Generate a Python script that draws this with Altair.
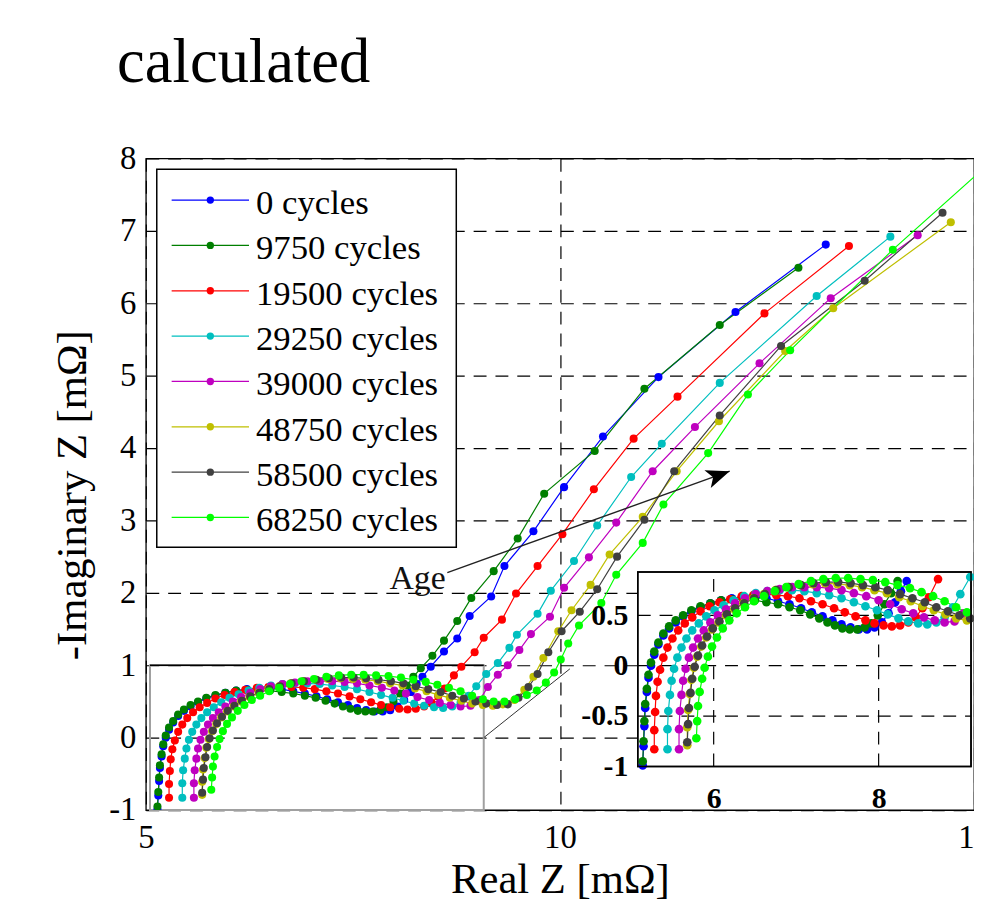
import math
import altair as alt
import pandas as pd

TITLE = "calculated"
SERIES = ["0 cycles", "9750 cycles", "19500 cycles", "29250 cycles",
          "39000 cycles", "48750 cycles", "58500 cycles", "68250 cycles"]
COLORS = ["#0000ff", "#007f00", "#ff0000", "#00bfbf",
          "#bf00bf", "#bfbf00", "#404040", "#00ff00"]

# (Real Z, -Imag Z) in mOhm
S0 = [(5.14,-0.99),(5.15,-0.80),(5.16,-0.60),(5.17,-0.42),(5.19,-0.26),(5.21,-0.12),(5.24,0.00),(5.28,0.11),
      (5.33,0.21),(5.39,0.30),(5.46,0.37),(5.54,0.43),(5.63,0.49),(5.73,0.54),(5.84,0.58),(5.96,0.62),
      (6.09,0.65),(6.22,0.67),(6.36,0.68),(6.50,0.68),(6.64,0.67),(6.78,0.64),(6.92,0.61),(7.06,0.57),
      (7.19,0.53),(7.32,0.49),(7.44,0.45),(7.55,0.41),(7.66,0.38),(7.76,0.36),(7.86,0.36),(7.95,0.38),
      (8.04,0.43),(8.12,0.52),(8.20,0.63),(8.27,0.74),(8.34,0.84),(8.44,0.98),(8.60,1.19),(8.76,1.37),
      (8.91,1.68),(9.17,1.95),(9.33,2.37),(9.68,2.85),(10.05,3.46),(10.52,4.16),(11.19,4.98),(12.12,5.88),
      (13.21,6.81)]
S1 = [(5.14,-0.95),(5.15,-0.75),(5.16,-0.55),(5.17,-0.38),(5.19,-0.23),(5.21,-0.09),(5.24,0.03),(5.28,0.14),
      (5.33,0.23),(5.39,0.32),(5.46,0.39),(5.54,0.45),(5.63,0.50),(5.73,0.55),(5.84,0.59),(5.96,0.62),
      (6.09,0.65),(6.22,0.66),(6.36,0.66),(6.50,0.65),(6.64,0.63),(6.78,0.61),(6.92,0.58),(7.05,0.55),
      (7.17,0.51),(7.28,0.47),(7.38,0.43),(7.47,0.40),(7.56,0.37),(7.65,0.36),(7.74,0.36),(7.83,0.38),
      (7.91,0.42),(7.99,0.50),(8.07,0.61),(8.15,0.72),(8.23,0.84),(8.32,0.96),(8.46,1.13),(8.60,1.34),
      (8.76,1.61),(8.93,1.93),(9.20,2.30),(9.49,2.75),(9.81,3.37),(10.42,3.96),(11.02,4.82),(11.93,5.70),
      (12.88,6.49)]
S2 = [(5.28,-0.83),(5.28,-0.64),(5.29,-0.46),(5.30,-0.30),(5.32,-0.16),(5.35,-0.04),(5.39,0.08),(5.44,0.18),
      (5.50,0.27),(5.57,0.35),(5.65,0.42),(5.74,0.48),(5.84,0.54),(5.95,0.59),(6.07,0.63),(6.20,0.66),
      (6.34,0.69),(6.48,0.70),(6.62,0.71),(6.76,0.70),(6.90,0.69),(7.04,0.67),(7.18,0.64),(7.32,0.61),
      (7.46,0.57),(7.59,0.53),(7.72,0.49),(7.84,0.45),(7.95,0.42),(8.06,0.40),(8.16,0.39),(8.26,0.40),
      (8.36,0.43),(8.45,0.48),(8.53,0.57),(8.61,0.68),(8.72,0.86),(8.81,0.98),(8.97,1.18),(9.08,1.38),
      (9.30,1.63),(9.47,1.99),(9.73,2.37),(10.03,2.81),(10.41,3.43),(10.89,4.13),(11.42,4.71),(12.47,5.86),
      (13.49,6.79)]
S3 = [(5.44,-0.83),(5.44,-0.63),(5.45,-0.45),(5.47,-0.29),(5.49,-0.15),(5.52,-0.03),(5.56,0.08),(5.61,0.18),
      (5.67,0.27),(5.74,0.35),(5.82,0.42),(5.91,0.49),(6.01,0.55),(6.12,0.60),(6.24,0.65),(6.37,0.69),
      (6.51,0.72),(6.65,0.74),(6.80,0.75),(6.95,0.75),(7.10,0.74),(7.25,0.72),(7.40,0.70),(7.55,0.67),
      (7.70,0.63),(7.84,0.59),(7.98,0.55),(8.11,0.51),(8.24,0.47),(8.36,0.44),(8.48,0.42),(8.59,0.41),
      (8.70,0.43),(8.80,0.48),(8.90,0.58),(8.99,0.71),(9.11,0.88),(9.25,1.03),(9.39,1.24),(9.48,1.42),
      (9.73,1.71),(9.89,2.03),(10.17,2.44),(10.45,2.93),(10.86,3.60),(11.23,4.06),(11.93,4.90),(13.10,6.10),
      (13.99,6.92)]
S4 = [(5.58,-0.83),(5.58,-0.63),(5.59,-0.45),(5.61,-0.29),(5.63,-0.15),(5.66,-0.03),(5.70,0.08),(5.75,0.18),
      (5.81,0.27),(5.88,0.35),(5.96,0.43),(6.05,0.50),(6.15,0.56),(6.26,0.62),(6.38,0.67),(6.51,0.71),
      (6.65,0.74),(6.80,0.76),(6.95,0.78),(7.10,0.78),(7.25,0.78),(7.40,0.77),(7.55,0.75),(7.70,0.72),
      (7.85,0.69),(8.00,0.65),(8.14,0.61),(8.28,0.56),(8.42,0.52),(8.55,0.48),(8.68,0.45),(8.80,0.43),
      (8.92,0.44),(9.03,0.52),(9.13,0.70),(9.25,0.87),(9.37,1.00),(9.51,1.21),(9.65,1.43),(9.88,1.67),
      (10.05,2.07),(10.35,2.49),(10.68,2.97),(11.12,3.68),(11.63,4.29),(12.41,5.17),(13.27,6.07),(14.32,6.94)]
S5 = [(5.68,-0.79),(5.68,-0.61),(5.69,-0.44),(5.71,-0.28),(5.73,-0.14),(5.76,-0.02),(5.80,0.09),(5.85,0.19),
      (5.91,0.28),(5.98,0.36),(6.06,0.43),(6.15,0.50),(6.25,0.56),(6.36,0.62),(6.48,0.67),(6.61,0.71),
      (6.75,0.75),(6.90,0.78),(7.05,0.80),(7.20,0.81),(7.35,0.82),(7.50,0.81),(7.65,0.80),(7.80,0.78),
      (7.95,0.75),(8.10,0.72),(8.25,0.68),(8.39,0.64),(8.53,0.59),(8.67,0.55),(8.81,0.51),(8.94,0.47),
      (9.07,0.45),(9.19,0.44),(9.31,0.46),(9.45,0.52),(9.57,0.66),(9.68,0.84),(9.80,1.10),(9.98,1.47),
      (10.14,1.76),(10.37,2.11),(10.60,2.53),(11.00,3.05),(11.41,3.68),(11.92,4.37),(12.72,5.34),(13.30,5.93),
      (14.72,7.12)]
S6 = [(5.68,-0.76),(5.69,-0.58),(5.70,-0.42),(5.72,-0.27),(5.74,-0.13),(5.77,-0.01),(5.81,0.10),(5.86,0.20),
      (5.92,0.29),(5.99,0.37),(6.07,0.44),(6.16,0.51),(6.26,0.57),(6.37,0.62),(6.49,0.67),(6.62,0.71),
      (6.76,0.75),(6.91,0.78),(7.06,0.80),(7.21,0.82),(7.36,0.83),(7.51,0.83),(7.66,0.82),(7.81,0.80),
      (7.96,0.78),(8.11,0.75),(8.26,0.71),(8.41,0.67),(8.56,0.63),(8.70,0.58),(8.84,0.54),(8.98,0.50),
      (9.11,0.47),(9.24,0.45),(9.37,0.46),(9.50,0.55),(9.62,0.70),(9.73,0.88),(9.86,1.18),(10.02,1.47),
      (10.24,1.74),(10.45,2.05),(10.69,2.50),(11.02,3.01),(11.38,3.68),(11.93,4.45),(12.67,5.41),(13.68,6.31),
      (14.62,7.25)]
S7 = [(5.79,-0.72),(5.80,-0.55),(5.81,-0.40),(5.83,-0.26),(5.86,-0.13),(5.89,-0.02),(5.93,0.09),(5.98,0.19),
      (6.04,0.28),(6.11,0.37),(6.19,0.45),(6.28,0.52),(6.38,0.58),(6.49,0.64),(6.61,0.69),(6.74,0.74),
      (6.88,0.78),(7.03,0.81),(7.18,0.84),(7.33,0.86),(7.48,0.87),(7.63,0.87),(7.78,0.86),(7.93,0.85),
      (8.08,0.83),(8.23,0.80),(8.38,0.77),(8.52,0.73),(8.66,0.69),(8.80,0.64),(8.94,0.58),(9.07,0.53),
      (9.20,0.50),(9.33,0.50),(9.46,0.53),(9.60,0.59),(9.72,0.65),(9.83,0.76),(9.93,0.90),(10.01,1.08),
      (10.10,1.30),(10.23,1.55),(10.50,1.86),(10.68,2.25),(11.00,2.69),(11.25,3.22),(11.79,3.93),(12.27,4.74),
      (12.78,5.35),(14.02,6.74),(15.30,8.05)]
ALL_SERIES = [S0, S1, S2, S3, S4, S5, S6, S7]

MAIN_X = [5, 15]
MAIN_Y = [-1, 8]
X_TICKS = [5, 10, 15]
Y_TICKS = [-1, 0, 1, 2, 3, 4, 5, 6, 7, 8]
INSET_X = [5.08, 9.12]
INSET_Y = [-1, 0.93]
INSET_X_TICKS = [6, 8]
INSET_Y_TICKS = [-1, -0.5, 0, 0.5]
ZOOM_BOX = {"x0": 5.05, "x1": 9.08, "y0": -1.0, "y1": 1.0}
CONNECTOR = {"x0": 9.08, "y0": 0.0, "x1": 10.12, "y1": 0.95}
ARROW = {"x0": 8.64, "y0": 2.28, "x1": 12.05, "y1": 3.68}
AGE = {"x": 8.62, "y": 2.05, "label": "Age"}

rows = []
for name, pts in zip(SERIES, ALL_SERIES):
    for i, (re, im) in enumerate(pts):
        rows.append({"series": name, "i": i, "re": re, "im": im})
df = pd.DataFrame(rows)

# ---------- layout ----------
W, H = 835, 657
SERIF = "Liberation Serif"
INSET_RANGE_X = [496, 832]
INSET_RANGE_Y = [613, 417]
DASH = [13, 9]

color_enc = alt.Color("series:N", scale=alt.Scale(domain=SERIES, range=COLORS), legend=None)

# ---------- main panel ----------
sx = alt.Scale(domain=MAIN_X, nice=False, zero=False)
sy = alt.Scale(domain=MAIN_Y, nice=False, zero=False)
MINUS_FIX = "replace(datum.label, '\u2212', '-')"
ax_x = alt.Axis(values=X_TICKS, title="Real Z [m\u03a9]", orient="bottom", grid=True, gridColor="black",
                gridDash=DASH, gridWidth=1.2, gridOpacity=1, domain=False, ticks=False, tickSize=0,
                labelPadding=12, labelFont=SERIF, labelFontSize=33, labelColor="black", labelFlush=False,
                labelOverlap=False, titleFont=SERIF, titleFontSize=43, titleFontWeight="normal",
                titleColor="black", titleY=49, titleBaseline="top")
ax_y = alt.Axis(values=Y_TICKS, title="-Imaginary Z [m\u03a9]", orient="left", grid=True, gridColor="black",
                gridDash=DASH, gridWidth=1.2, gridOpacity=1, domain=False, ticks=False, tickSize=0,
                labelPadding=10, labelFont=SERIF, labelFontSize=33, labelColor="black", labelFlush=False,
                labelOverlap=False, labelExpr=MINUS_FIX, titleFont=SERIF, titleFontSize=43,
                titleFontWeight="normal", titleColor="black", titleX=-52, titleY=339,
                titleBaseline="bottom", titleAngle=270)


def MX(f):
    return alt.X(f"{f}:Q", scale=sx, axis=ax_x)


def MY(f):
    return alt.Y(f"{f}:Q", scale=sy, axis=ax_y)


zoom_box = alt.Chart(pd.DataFrame([ZOOM_BOX])).mark_rect(
    fillOpacity=0, stroke="#a0a0a0", strokeWidth=2).encode(x=MX("x0"), x2="x1", y=MY("y0"), y2="y1")
zoom_top = alt.Chart(pd.DataFrame([ZOOM_BOX])).mark_rule(color="black", strokeWidth=1.5).encode(
    x=MX("x0"), x2="x1", y=MY("y1"))
connector = alt.Chart(pd.DataFrame([CONNECTOR])).mark_rule(color="#333333", strokeWidth=1).encode(
    x=MX("x0"), x2="x1", y=MY("y0"), y2="y1")
main_lines = alt.Chart(df).mark_line(strokeWidth=1.2, clip=True).encode(
    x=MX("re"), y=MY("im"), color=color_enc, detail="series:N", order="i:Q")
main_pts = alt.Chart(df).mark_circle(size=66, opacity=1, clip=True).encode(
    x=MX("re"), y=MY("im"), color=color_enc)

# arrow ("Age")
ang = math.degrees(math.atan2((ARROW["y1"] - ARROW["y0"]) * H / (MAIN_Y[1] - MAIN_Y[0]),
                              (ARROW["x1"] - ARROW["x0"]) * W / (MAIN_X[1] - MAIN_X[0])))
head_angle = (360 - ang) % 360
ARROW_PATH = "M0,0 L-2,-0.8 L-1.5,0 L-2,0.8 Z"
arrow_line = alt.Chart(pd.DataFrame([ARROW])).mark_rule(color="#222222", strokeWidth=1.4).encode(
    x=MX("x0"), x2="x1", y=MY("y0"), y2="y1")
arrow_head = alt.Chart(pd.DataFrame([ARROW])).mark_point(
    shape=ARROW_PATH, filled=True, color="black", opacity=1, size=560, angle=head_angle).encode(
    x=MX("x1"), y=MY("y1"))
age_text = alt.Chart(pd.DataFrame([AGE])).mark_text(
    align="right", baseline="alphabetic", font=SERIF, fontSize=34, color="#111111").encode(
    x=MX("x"), y=MY("y"), text="label:N")

main = alt.layer(zoom_box, zoom_top, connector, main_lines, main_pts, arrow_line, arrow_head, age_text)

# ---------- inset ----------
isx = alt.Scale(domain=INSET_X, range=INSET_RANGE_X, nice=False, zero=False)
isy = alt.Scale(domain=INSET_Y, range=INSET_RANGE_Y, nice=False, zero=False)
ax_ix = alt.Axis(values=INSET_X_TICKS, orient="bottom", offset=-(H - INSET_RANGE_Y[0]), grid=False,
                 domain=False, ticks=False, tickSize=0, labelPadding=17, labelFont=SERIF, labelFontSize=30,
                 labelFontWeight="bold", labelColor="black", labelFlush=False, labelOverlap=False,
                 format="~g", title=None, zindex=1)
ax_iy = alt.Axis(values=INSET_Y_TICKS, orient="left", offset=-INSET_RANGE_X[0], grid=False,
                 domain=False, ticks=False, tickSize=0, labelPadding=10, labelFont=SERIF, labelFontSize=30,
                 labelFontWeight="bold", labelColor="black", labelFlush=False, labelOverlap=False,
                 format="~g", labelExpr=MINUS_FIX, title=None, zindex=1)


def IX(f):
    return alt.X(f"{f}:Q", scale=isx, axis=ax_ix)


def IY(f):
    return alt.Y(f"{f}:Q", scale=isy, axis=ax_iy)


inset_frame_df = pd.DataFrame([{"x0": INSET_X[0], "x1": INSET_X[1], "y0": INSET_Y[0], "y1": INSET_Y[1]}])
inset_bg = alt.Chart(inset_frame_df).mark_rect(fill="white", stroke="black", strokeWidth=1.5).encode(
    x=IX("x0"), x2="x1", y=IY("y0"), y2="y1")
vgrid = alt.Chart(pd.DataFrame({"v": INSET_X_TICKS, "lo": INSET_Y[0], "hi": INSET_Y[1]})).mark_rule(
    color="black", strokeDash=DASH, strokeWidth=1.2).encode(x=IX("v"), y=IY("lo"), y2="hi")
hgrid = alt.Chart(pd.DataFrame({"v": INSET_Y_TICKS[1:], "lo": INSET_X[0], "hi": INSET_X[1]})).mark_rule(
    color="black", strokeDash=DASH, strokeWidth=1.2).encode(y=IY("v"), x=IX("lo"), x2="hi")
inset_src = alt.Chart(df).transform_filter(
    alt.FieldRangePredicate(field="re", range=INSET_X)).transform_filter(
    alt.FieldRangePredicate(field="im", range=INSET_Y))
inset_lines = inset_src.mark_line(strokeWidth=1.2).encode(
    x=IX("re"), y=IY("im"), color=color_enc, detail="series:N", order="i:Q")
inset_pts = inset_src.mark_circle(size=76, opacity=1).encode(x=IX("re"), y=IY("im"), color=color_enc)
inset_edge = alt.Chart(inset_frame_df).mark_rect(fillOpacity=0, stroke="black", strokeWidth=1.5).encode(
    x=IX("x0"), x2="x1", y=IY("y0"), y2="y1")

inset = alt.layer(inset_bg, vgrid, hgrid, inset_lines, inset_pts, inset_edge)

# ---------- legend + heading ----------
leg_df = pd.DataFrame({"series": SERIES, "k": list(range(len(SERIES)))})
ly = alt.Scale(domain=[0, len(SERIES) - 1], range=[42, 362], nice=False, zero=False)
leg_box = alt.Chart(pd.DataFrame({"a": [0]})).mark_rect(fill="white", stroke="black", strokeWidth=1.5).encode(
    x=alt.value(11), x2=alt.value(313), y=alt.value(11), y2=alt.value(392))
leg_lines = alt.Chart(leg_df).mark_rule(strokeWidth=1.3).encode(
    y=alt.Y("k:Q", scale=ly, axis=None), x=alt.value(26), x2=alt.value(104), color=color_enc)
leg_pts = alt.Chart(leg_df).mark_circle(size=55, opacity=1).encode(
    y=alt.Y("k:Q", scale=ly, axis=None), x=alt.value(65), color=color_enc)
leg_txt = alt.Chart(leg_df).mark_text(align="left", baseline="middle", dy=3, font=SERIF, fontSize=35,
                                      color="black").encode(
    y=alt.Y("k:Q", scale=ly, axis=None), x=alt.value(111), text="series:N")
heading = alt.Chart(pd.DataFrame({"t": [TITLE]})).mark_text(
    align="left", baseline="alphabetic", font=SERIF, fontSize=63, color="black").encode(
    x=alt.value(-29), y=alt.value(-77), text="t:N")
legend = alt.layer(leg_box, leg_lines, leg_pts, leg_txt, heading)

chart = alt.layer(main, inset, legend).resolve_scale(
    x="independent", y="independent"
).properties(
    width=W, height=H,
    padding={"left": 139, "top": 148, "right": 0, "bottom": 87},
    autosize=alt.AutoSizeParams(type="none"),
).configure_view(stroke="black", strokeWidth=1.3)

chart.save("out.html", embed_options={"renderer": "svg", "actions": False})
